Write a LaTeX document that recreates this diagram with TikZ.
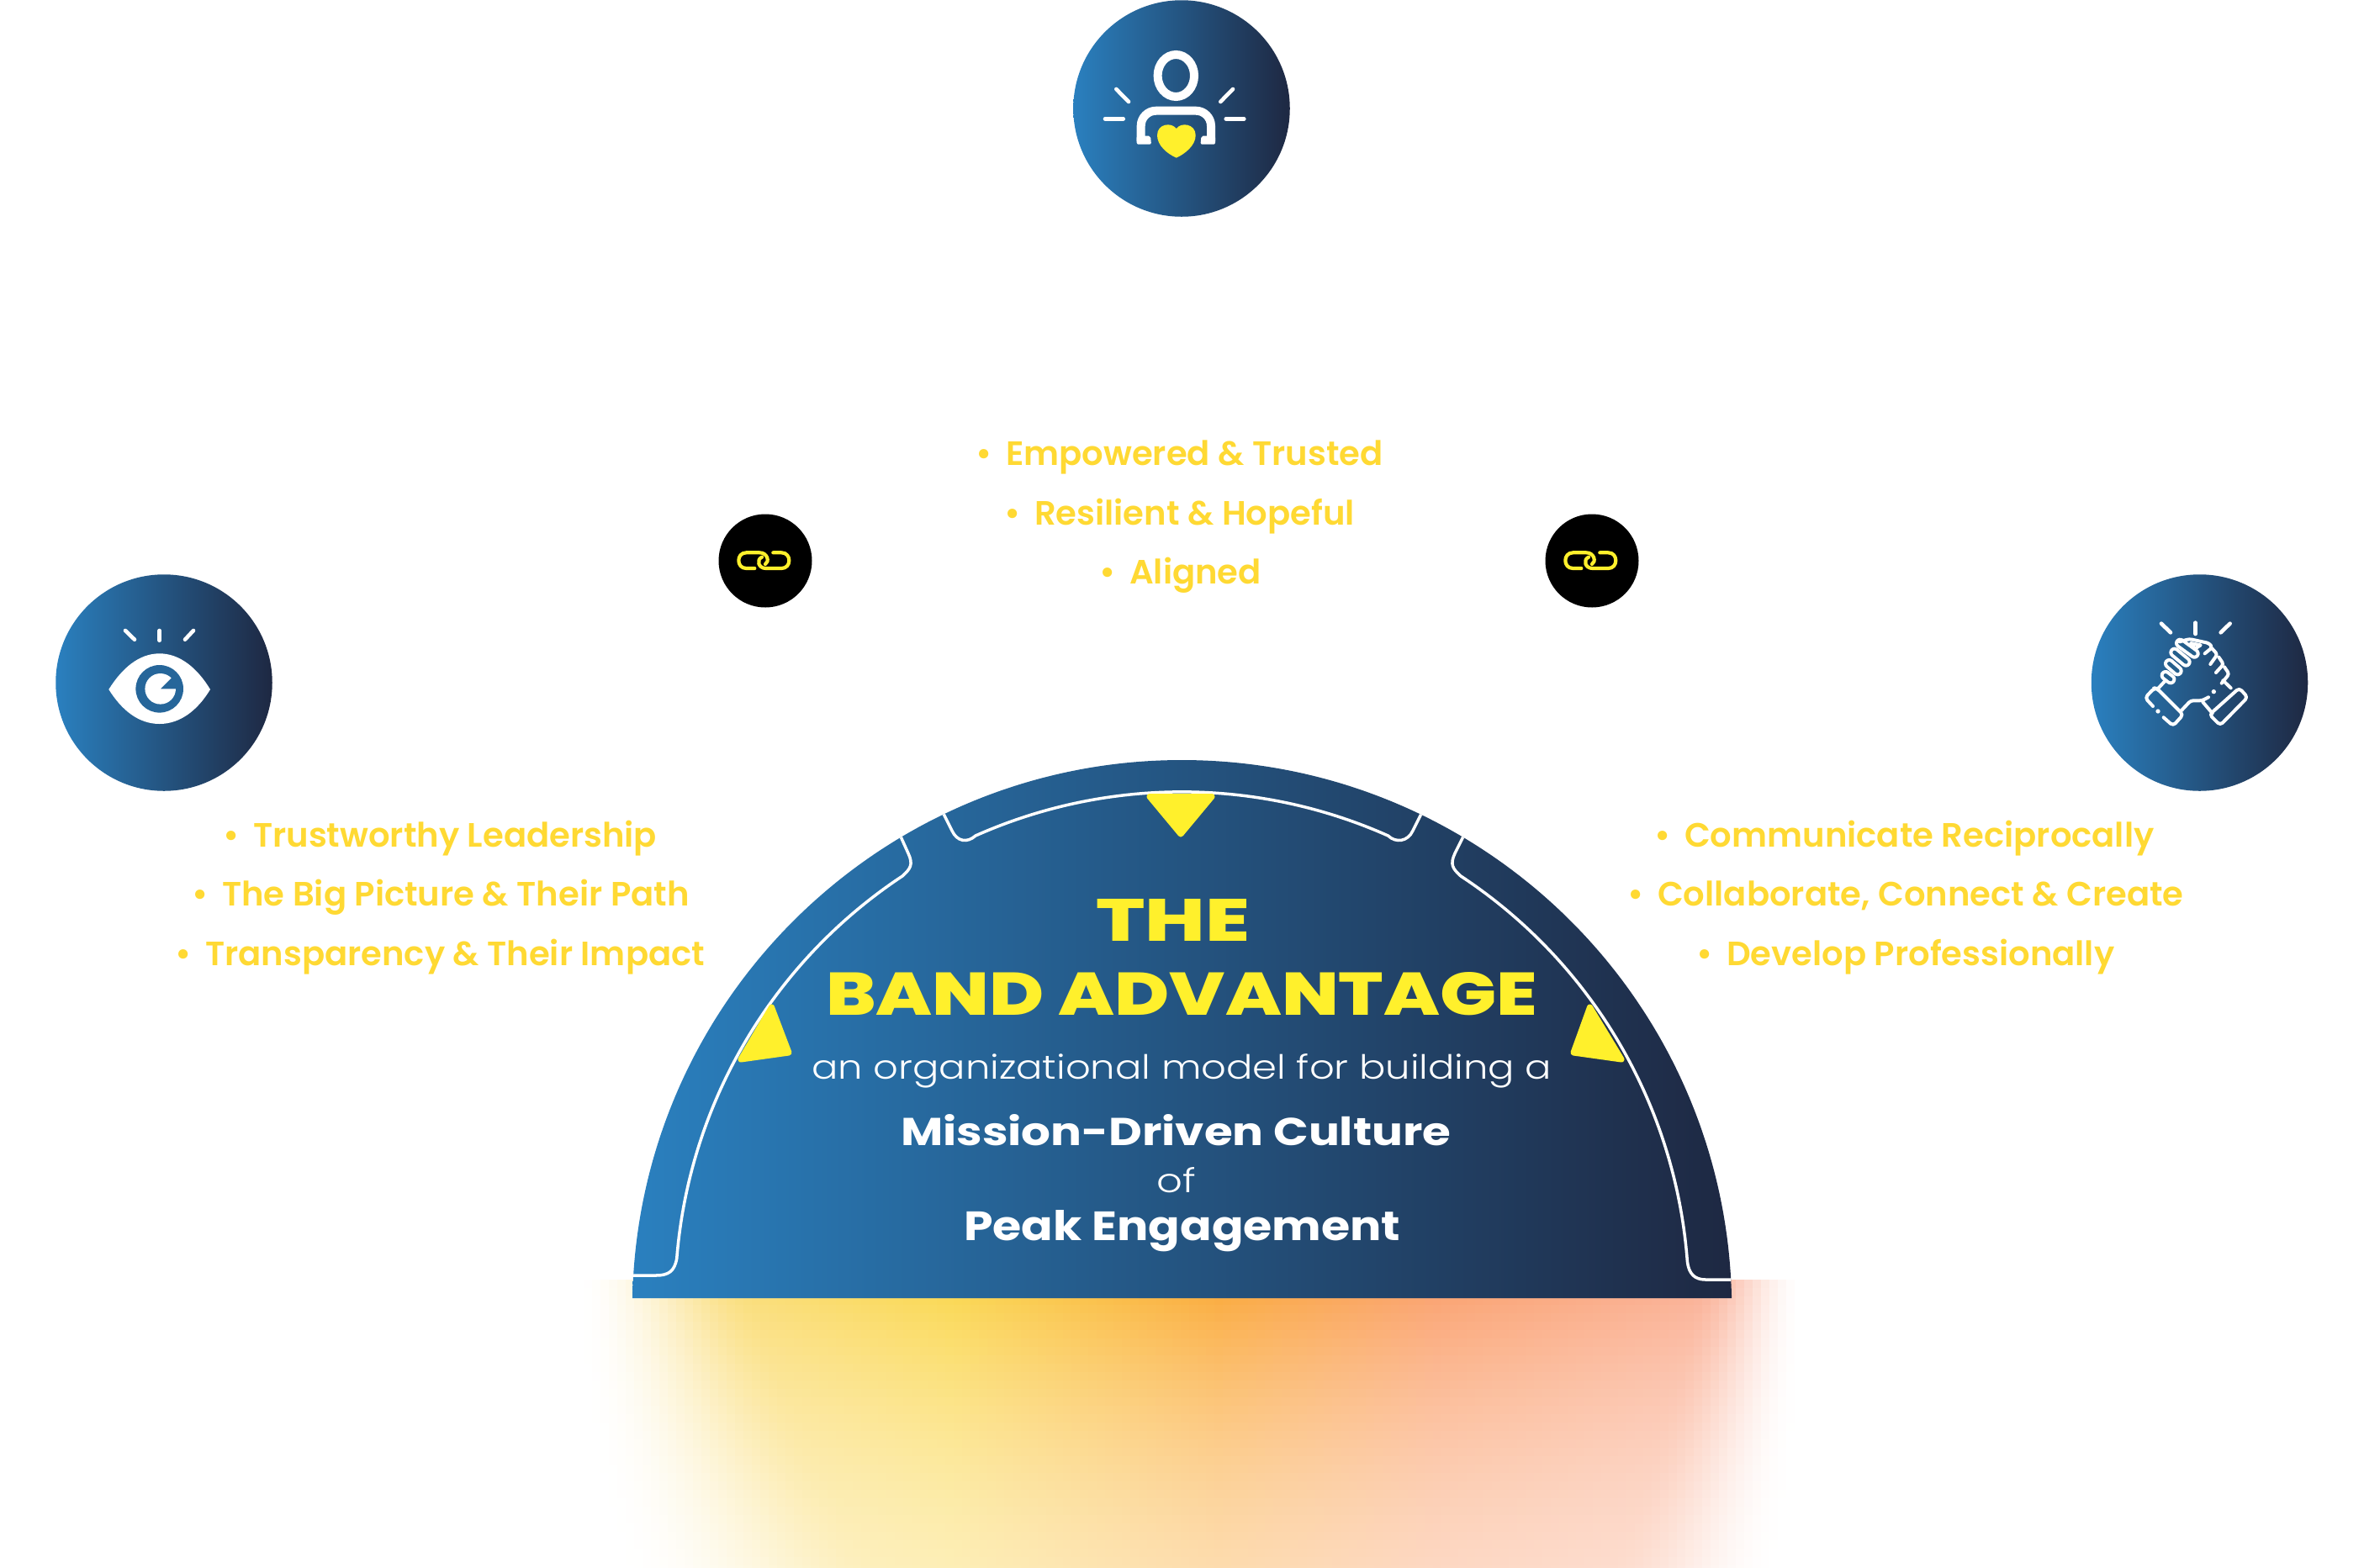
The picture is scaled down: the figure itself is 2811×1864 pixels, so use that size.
\documentclass[tikz,border=0pt]{standalone}
\usepackage{fontspec}
\usepackage{graphicx}
\newfontfamily\popsb{Poppins SemiBold}
\newfontfamily\poplt{Poppins Light}
\newfontfamily\popbd{Poppins}[UprightFont=*-Bold,Extension=.ttf]
\newfontfamily\hdfont{Poppins ExtraBold}
\definecolor{bandL}{HTML}{2A80BF}
\definecolor{bandR}{HTML}{1E2842}
\definecolor{bandY}{HTML}{FFF02C}
\definecolor{listY}{HTML}{FFD933}
\definecolor{irisC}{HTML}{26669A}
\definecolor{handC}{HTML}{255F8C}
\tikzset{
  gradcircle/.style={circle,inner sep=0pt,minimum size=257.5pt,left color=bandL,right color=bandR,draw=none},
  linkcircle/.style={circle,inner sep=0pt,minimum size=111pt,fill=black,draw=none},
  whiteline/.style={draw=white,line width=3.5pt,line cap=butt},
  ray/.style={draw=white,line width=4.6pt,line cap=round},
  linkline/.style={draw=bandY,line width=4.2pt,line cap=round,line join=round},
  triangle/.style={fill=bandY,draw=bandY,line width=7pt,line join=round},
  bul/.style={font=\popsb\fontsize{40.1}{40.1}\selectfont,text=listY,inner sep=0pt,anchor=base west},
  head/.style={inner sep=0pt,anchor=base west},
  handl/.style={draw=white,line width=4pt,line cap=round,line join=round,fill=none},
}
\newcommand{\itm}[1]{\makebox[36pt][l]{•}#1}
\newcommand{\fitbox}[3]{\resizebox{#1pt}{#2pt}{#3}}
\begin{document}
\begin{tikzpicture}[x=1pt,y=1pt]
\useasboundingbox (0,0) rectangle (2811,-1864);
% ---- glow below the dome
\begin{scope}
\clip (694,-1522) rectangle (2134,-1864);
\foreach \ci in {0,...,143}{
  \pgfmathsetmacro\gx{694+10*\ci}
  \pgfmathsetmacro\gt{\ci/144}
  \pgfmathsetmacro\gg{\gt<.3 ? 225-33.3*\gt : (\gt<.52 ? 215-204.5*(\gt-.3) : (\gt<.7 ? 170-50*(\gt-.52) : 161+70*(\gt-.7)))}
  \pgfmathsetmacro\gb{\gt<.3 ? 150-233*\gt : (\gt<.52 ? 80-91*(\gt-.3) : (\gt<.7 ? 60+280*(\gt-.52) : 110+180*(\gt-.7)))}
  \foreach \cj in {0,...,34}{
    \pgfmathsetmacro\gy{1522+10*\cj}
    \pgfmathsetmacro\gv{\cj/34}
    \pgfmathsetmacro\sl{max(0,min(1,(\gx-(680+50*\gv*\gv))/(210+100*\gv)))}
    \pgfmathsetmacro\sr{max(0,min(1,((2140-30*\gv*\gv)-\gx)/(130+70*\gv)))}
    \pgfmathsetmacro\ga{\sl*\sl*(3-2*\sl)*\sr*\sr*(3-2*\sr)*(1-.9*\gv+.32*\gv*\gv)}
    \pgfmathsetmacro\cr{(255-5*\ga)/255}
    \pgfmathsetmacro\cg{(255-(255-\gg)*\ga)/255}
    \pgfmathsetmacro\cb{(255-(255-\gb)*\ga)/255}
    \definecolor{gcell}{rgb}{\cr,\cg,\cb}
    \fill[gcell] (\gx,-\gy) rectangle (\gx+11,-\gy-11);
  }
}
\end{scope}
% ---- dome
\shade[left color=bandL,right color=bandR] (752,-1544) arc[start angle=178.8,end angle=1.2,radius=653.7] -- cycle;
\begin{scope}
\clip (752,-1544) arc[start angle=178.8,end angle=1.2,radius=653.7] -- cycle;
\draw[whiteline] (1071,-995) -- (1080,-1015) .. controls (1086,-1028) and (1083,-1033) .. (1073,-1042)
   arc[start angle=123.5,end angle=175.44,radius=603] .. controls (802,-1512) and (795,-1517) .. (780,-1517) -- (745,-1517);
\draw[whiteline] (1122,-968) -- (1132,-988) .. controls (1138,-1001) and (1150,-1003) .. (1160,-994)
   arc[start angle=114,end angle=66,radius=603] .. controls (1660,-1003) and (1674,-1001) .. (1680,-988) -- (1690,-968);
\draw[whiteline] (1740,-995) -- (1730,-1015) .. controls (1724,-1028) and (1727,-1033) .. (1737,-1042)
   arc[start angle=56.6,end angle=4.3,radius=603] .. controls (2008,-1515) and (2015,-1522) .. (2028,-1522) -- (2065,-1522);
\end{scope}
% ---- yellow triangles
\draw[triangle] (1367,-947.5) -- (1441,-947.5) -- (1404,-992) -- cycle;
\draw[triangle] (917.5,-1198) -- (938,-1252) -- (881,-1260) -- cycle;
\draw[triangle] (1890.5,-1198) -- (1871,-1252) -- (1928,-1260) -- cycle;
% ---- dome texts
\node[head,text=bandY] (tthe) at (1303,-1119) {\fitbox{183}{50}{\hdfont THE}};
\node[head,text=bandY] (tband) at (982,-1207) {\fitbox{846}{51}{\hdfont BAND ADVANTAGE}};
\node[head,text=white] (tsub) at (965,-1283) {\fitbox{880}{30}{\poplt an organizational model for building a}};
\node[head,text=white] (tmis) at (1071,-1362) {\fitbox{654}{37}{\popbd Mission-Driven Culture}};
\node[head,text=white] (tof) at (1375.5,-1418) {\fitbox{46.5}{30}{\poplt of}};
\node[head,text=white] (tpeak) at (1146,-1475) {\fitbox{519}{36}{\popbd Peak Engagement}};
% ---- bullet lists
\node[bul] (m1) at (1196-36,-553.5) {\itm{Empowered \& Trusted}};
\node[bul] (m2) at (1230-36,-624) {\itm{Resilient \& Hopeful}};
\node[bul] (m3) at (1343-36,-694.5) {\itm{Aligned}};
\node[bul] (l1) at (301-36,-1007.5) {\itm{Trustworthy Leadership}};
\node[bul] (l2) at (264-36,-1077.5) {\itm{The Big Picture \& Their Path}};
\node[bul] (l3) at (244-36,-1148.5) {\itm{Transparency \& Their Impact}};
\node[bul] (r1) at (2003-36,-1007.5) {\itm{Communicate Reciprocally}};
\node[bul] (r2) at (1971-36,-1077.5) {\itm{Collaborate, Connect \& Create}};
\node[bul] (r3) at (2053-36,-1148.5) {\itm{Develop Professionally}};
% ---- big circles
\node[gradcircle] (ctop) at (1405,-129) {};
\node[gradcircle] (cleft) at (195,-812) {};
\node[gradcircle] (cright) at (2615.5,-812) {};
% ---- link circles
\node[linkcircle] (lkl) at (910,-667) {};
\node[linkcircle] (lkr) at (1893,-667) {};
\foreach \ox in {840,1823}{
\begin{scope}[shift={(\ox pt,-600pt)},x=.3333pt,y=-.3333pt]
\draw[linkline] (172,228) -- (142,228) .. controls (106,228) and (106,172) .. (142,172) -- (190,172) .. controls (218,172) and (226,205) .. (210,213);
\draw[linkline] (238,172) -- (268,172) .. controls (304,172) and (304,228) .. (268,228) -- (212,228) .. controls (184,228) and (178,196) .. (198,188);
\end{scope}}
% ---- person icon
\draw[white,line width=10pt] (1398.3,-90) ellipse[x radius=21.7,y radius=25];
\draw[white,line width=10pt,rounded corners=18pt] (1356.7,-168) -- (1356.7,-131.7) -- (1440,-131.7) -- (1440,-168);
\fill[white,rounded corners=2pt] (1351.7,-161.7) -- (1368,-161.7) -- (1369,-171.7) -- (1351.7,-171.7) -- cycle;
\fill[white,rounded corners=2pt] (1428.5,-161.7) -- (1445,-161.7) -- (1445,-171.7) -- (1427.5,-171.7) -- cycle;
\fill[bandY] (1398.8,-187.7) .. controls (1388,-183) and (1376,-173) .. (1376,-161) .. controls (1376,-147) and (1393,-145) .. (1398.8,-153) .. controls (1404,-145) and (1421.7,-147) .. (1421.7,-161) .. controls (1421.7,-173) and (1409,-183) .. (1398.8,-187.7) -- cycle;
\draw[ray] (1327.3,-106) -- (1342,-121);
\draw[ray] (1466,-106) -- (1451.3,-121);
\draw[ray] (1314,-141.3) -- (1335.7,-141.3);
\draw[ray] (1457.7,-141.3) -- (1479.3,-141.3);
% ---- eye icon
\fill[white] (129.3,-820) .. controls (145,-795) and (165,-777.3) .. (189.7,-777.3) .. controls (214,-777.3) and (235,-795) .. (250,-820) .. controls (235,-845) and (214,-861) .. (189.7,-861) .. controls (165,-861) and (145,-845) .. (129.3,-820) -- cycle;
\fill[irisC] (189.7,-819.3) circle[radius=28.3];
\fill[white] (190.7,-819.3) -- ++(0:18.3) arc[start angle=0,end angle=-315,radius=18.3] -- cycle;
\draw[ray] (149,-750) -- (160,-760.7);
\draw[ray] (189.7,-750) -- (189.7,-761.7);
\draw[ray] (230,-750) -- (220,-760.7);
% ---- handshake icon
\begin{scope}[shift={(2470pt,-670pt)},x=.3333pt,y=-.3333pt]
\draw[ray] (300,215) -- (333,247);
\draw[ray] (422,212) -- (422,252);
\draw[ray] (545,215) -- (512,247);
\draw[handl,rounded corners=4pt] (270,510) -- (242,480) -- (275,445) -- (285,447) -- (378,540) -- (342,580) -- (308,550);
\draw[handl,rounded corners=4pt] (578,445) -- (608,478) -- (510,578) -- (472,540) -- cycle;
\draw[handl] (290,445) -- (315,418);
\draw[handl] (548,445) -- (520,418);
\draw[handl,rounded corners=3pt] (372,525) -- (405,490) -- (445,490) -- (468,478);
\draw[handl] (448,495) -- (482,535);
\fill[white] (288,528) circle[radius=8];
\fill[white] (487,458) circle[radius=8];
\foreach \xa/\ya/\xb/\yb in {315/400/333/414,328/358/358/384,347/318/388/352,367/285/418/322}{
  \draw[white,line width=12.7pt,line cap=round] (\xa,\ya) -- (\xb,\yb);
}
\foreach \xa/\ya/\xb/\yb in {315/400/333/414,328/358/358/384,347/318/388/352,367/285/418/322}{
  \draw[handC,line width=4.6pt,line cap=round] (\xa,\ya) -- (\xb,\yb);
}
\draw[handl,rounded corners=3pt] (365,280) -- (400,270) -- (470,285) -- (482,300) -- (455,322);
\draw[handl] (405,285) -- (440,292) -- (420,305) -- cycle;
\draw[handl,rounded corners=3pt] (482,305) -- (500,325) -- (475,360);
\draw[handl,rounded corners=3pt] (505,335) -- (522,360) -- (495,390);
\draw[handl,rounded corners=3pt] (525,370) -- (542,395) -- (515,428);
\end{scope}
\end{tikzpicture}
\end{document}
